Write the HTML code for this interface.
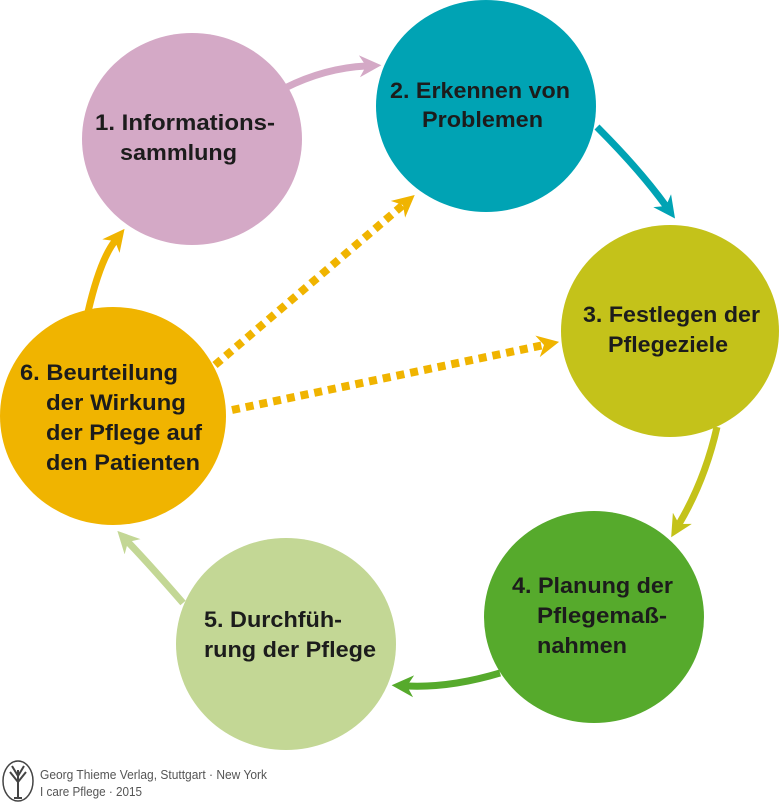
<!DOCTYPE html>
<html><head><meta charset="utf-8"><style>
html,body{margin:0;padding:0;background:#fff;}
svg{display:block;}
.t{font-family:"Liberation Sans",sans-serif;font-weight:bold;font-size:22px;fill:#1c1c1c;}
.s{font-family:"Liberation Sans",sans-serif;font-size:12.5px;fill:#555;}
</style></head><body>
<svg width="780" height="806" viewBox="0 0 780 806" xmlns="http://www.w3.org/2000/svg">
<defs>
<marker id="m1" viewBox="0 0 10 10" refX="3" refY="5" markerWidth="22" markerHeight="22" markerUnits="userSpaceOnUse" orient="auto"><path d="M0,0 L10,5 L0,10 L3,5z" fill="#d4a9c6"/></marker>
<marker id="m2" viewBox="0 0 10 10" refX="3" refY="5" markerWidth="22" markerHeight="22" markerUnits="userSpaceOnUse" orient="auto"><path d="M0,0 L10,5 L0,10 L3,5z" fill="#00a3b4"/></marker>
<marker id="m3" viewBox="0 0 10 10" refX="3" refY="5" markerWidth="22" markerHeight="22" markerUnits="userSpaceOnUse" orient="auto"><path d="M0,0 L10,5 L0,10 L3,5z" fill="#c4c21a"/></marker>
<marker id="m4" viewBox="0 0 10 10" refX="3" refY="5" markerWidth="22" markerHeight="22" markerUnits="userSpaceOnUse" orient="auto"><path d="M0,0 L10,5 L0,10 L3,5z" fill="#56aa2c"/></marker>
<marker id="m5" viewBox="0 0 10 10" refX="3" refY="5" markerWidth="22" markerHeight="22" markerUnits="userSpaceOnUse" orient="auto"><path d="M0,0 L10,5 L0,10 L3,5z" fill="#c3d795"/></marker>
<marker id="m6" viewBox="0 0 10 10" refX="3" refY="5" markerWidth="22" markerHeight="22" markerUnits="userSpaceOnUse" orient="auto"><path d="M0,0 L10,5 L0,10 L3,5z" fill="#f0b400"/></marker>
</defs>
<g fill="none" stroke-width="7">
<path d="M285,88 Q325,68 366,66" stroke="#d4a9c6" marker-end="url(#m1)"/>
<path d="M597,127 Q640,170 666,206" stroke="#00a3b4" marker-end="url(#m2)"/>
<path d="M717,427 Q705,480 679,524" stroke="#c4c21a" marker-end="url(#m3)"/>
<path d="M500,673 Q450,688 407,686" stroke="#56aa2c" marker-end="url(#m4)"/>
<path d="M183,603 Q150,565 128,542" stroke="#c3d795" marker-end="url(#m5)"/>
<path d="M88,312 Q100,260 115,241" stroke="#f0b400" marker-end="url(#m6)"/>
<path d="M215,365 L403,205" stroke="#f0b400" stroke-width="8" stroke-dasharray="8 6" marker-end="url(#m6)"/>
<path d="M232,410 L544,345" stroke="#f0b400" stroke-width="8" stroke-dasharray="8 6" marker-end="url(#m6)"/>
</g>
<ellipse cx="192" cy="139" rx="110" ry="106" fill="#d4a9c6"/>
<ellipse cx="486" cy="106" rx="110" ry="106" fill="#00a3b4"/>
<ellipse cx="670" cy="331" rx="109" ry="106" fill="#c4c21a"/>
<ellipse cx="594" cy="617" rx="110" ry="106" fill="#56aa2c"/>
<ellipse cx="286" cy="644" rx="110" ry="106" fill="#c3d795"/>
<ellipse cx="113" cy="416" rx="113" ry="109" fill="#f0b400"/>
<g class="t">
<text x="95" y="130" textLength="180" lengthAdjust="spacingAndGlyphs">1. Informations-</text>
<text x="120" y="160" textLength="117" lengthAdjust="spacingAndGlyphs">sammlung</text>
<text x="390" y="98" textLength="180" lengthAdjust="spacingAndGlyphs">2. Erkennen von</text>
<text x="422" y="127" textLength="121" lengthAdjust="spacingAndGlyphs">Problemen</text>
<text x="583" y="322" textLength="177" lengthAdjust="spacingAndGlyphs">3. Festlegen der</text>
<text x="608" y="352" textLength="120" lengthAdjust="spacingAndGlyphs">Pflegeziele</text>
<text x="512" y="593" textLength="161" lengthAdjust="spacingAndGlyphs">4. Planung der</text>
<text x="537" y="623" textLength="130" lengthAdjust="spacingAndGlyphs">Pflegemaß-</text>
<text x="537" y="653" textLength="90" lengthAdjust="spacingAndGlyphs">nahmen</text>
<text x="204" y="627" textLength="138" lengthAdjust="spacingAndGlyphs">5. Durchfüh-</text>
<text x="204" y="657" textLength="172" lengthAdjust="spacingAndGlyphs">rung der Pflege</text>
<text x="20" y="380" textLength="158" lengthAdjust="spacingAndGlyphs">6. Beurteilung</text>
<text x="46" y="410" textLength="140" lengthAdjust="spacingAndGlyphs">der Wirkung</text>
<text x="46" y="440" textLength="156" lengthAdjust="spacingAndGlyphs">der Pflege auf</text>
<text x="46" y="470" textLength="154" lengthAdjust="spacingAndGlyphs">den Patienten</text>
</g>
<ellipse cx="18" cy="781" rx="15" ry="20" fill="none" stroke="#444" stroke-width="1.5"/>
<path d="M18,798 L18,770 M18,782 L10,772 M18,782 L26,772 M18,776 L12,766 M18,776 L24,766 M14,798 L22,798" stroke="#444" stroke-width="2" fill="none"/>
<text class="s" x="40" y="779" textLength="227" lengthAdjust="spacingAndGlyphs">Georg Thieme Verlag, Stuttgart · New York</text>
<text class="s" x="40" y="796" textLength="102" lengthAdjust="spacingAndGlyphs">I care Pflege · 2015</text>
</svg>
</body></html>
